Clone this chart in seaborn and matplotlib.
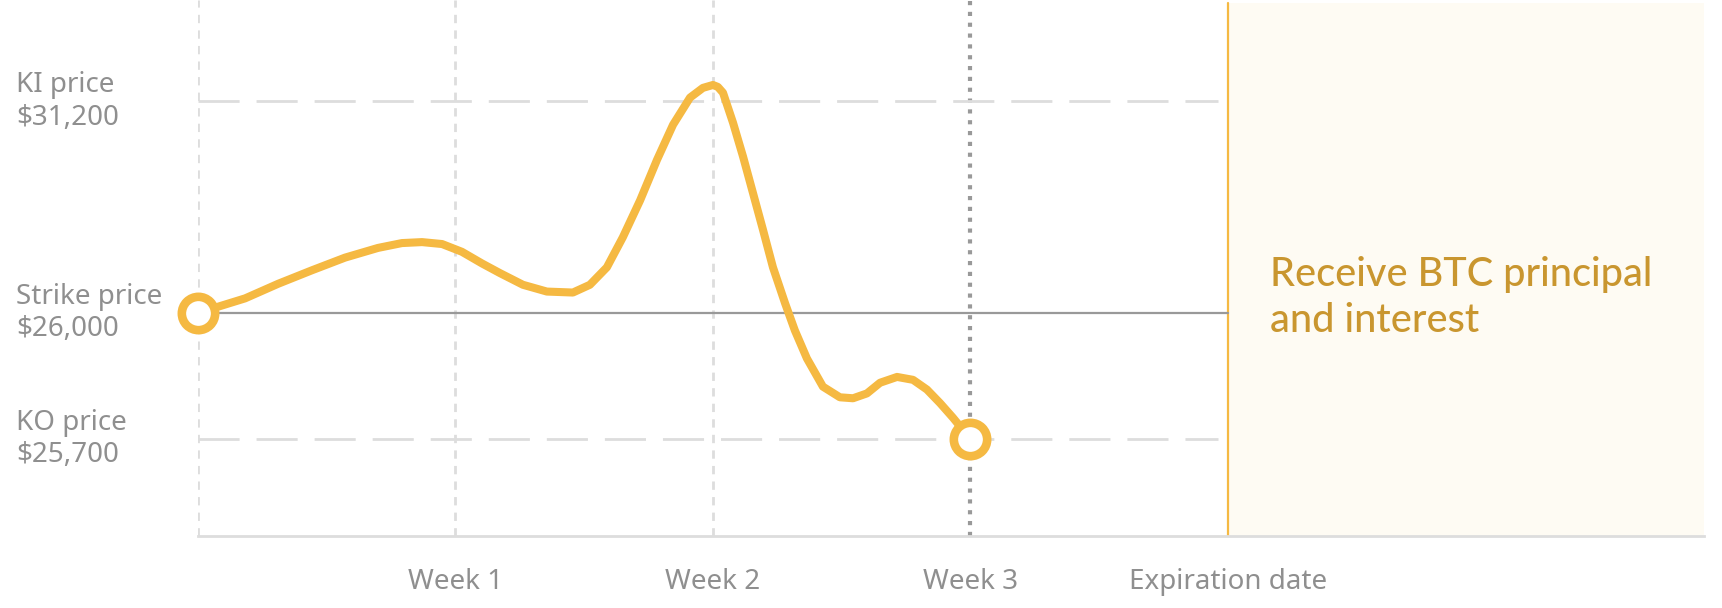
import seaborn as sns
import pandas as pd
import matplotlib.pyplot as plt

# price path, x in weeks, y in chart units (KO level = 1)
week_pos = [0.0, 0.183, 0.311, 0.443, 0.571, 0.699, 0.792, 0.870, 0.948, 1.025,
            1.103, 1.173, 1.262, 1.355, 1.456, 1.522, 1.588, 1.650, 1.717, 1.783,
            1.845, 1.911, 1.961, 2.0, 2.019, 2.039, 2.078, 2.117, 2.155, 2.194,
            2.233, 2.280, 2.318, 2.365, 2.427, 2.493, 2.544, 2.598, 2.649, 2.715,
            2.777, 2.831, 2.882, 2.932, 3.0]
price_lvl = [2.30, 2.45, 2.60, 2.74, 2.87, 2.97, 3.02, 3.03, 3.01, 2.93,
             2.81, 2.71, 2.59, 2.52, 2.51, 2.59, 2.77, 3.08, 3.46, 3.88,
             4.24, 4.52, 4.62, 4.65, 4.63, 4.57, 4.26, 3.91, 3.54, 3.16,
             2.77, 2.40, 2.12, 1.83, 1.54, 1.43, 1.42, 1.47, 1.58, 1.64,
             1.61, 1.51, 1.37, 1.22, 1.0]

levels = [4.48, 2.30, 1.0]
level_labels = ["KI price\n$31,200", "Strike price\n$26,000", "KO price\n$25,700"]
tick_pos = [1, 2, 3, 4]
tick_labels = ["Week 1", "Week 2", "Week 3", "Expiration date"]

ORANGE = "#f5b942"
GREY = "#8f8f8f"
LIGHT = "#dddddd"

sns.set_theme(style="white")
plt.rcParams['font.family'] = ['Noto Sans', 'DejaVu Sans']

fig = plt.figure(figsize=(17.22, 6.08), dpi=100)
ax = fig.add_axes([198 / 1722, 72 / 608, 1506 / 1722, 536 / 608])
ax.set_xlim(0, 5.849)
ax.set_ylim(0, 5.526)

# expiration zone
ax.axvspan(4, 5.849, ymax=5.49 / 5.526, color="#fefbf3", lw=0, zorder=0)
ax.plot([4, 4], [0, 5.49], color=ORANGE, lw=1.6, zorder=1)

# week guides
for w in [0, 1, 2]:
    ax.axvline(w, color=LIGHT, lw=2, ls=(0, (3, 2.6)), zorder=1)
ax.axvline(3, color="#999999", lw=3, ls=(0, (1, 1.6)), zorder=1)

# price levels
ax.plot([0, 3.96], [levels[0]] * 2, color=LIGHT, lw=2, ls=(0, (14.8, 6.1)), zorder=1)
ax.plot([0, 3.96], [levels[2]] * 2, color=LIGHT, lw=2, ls=(0, (14.8, 6.1)), zorder=1)
ax.plot([0, 4], [levels[1]] * 2, color="#999999", lw=1.6, zorder=1)

df = pd.DataFrame({"week": week_pos, "price": price_lvl})
sns.lineplot(data=df, x="week", y="price", color=ORANGE, lw=5.8, sort=False,
             ax=ax, zorder=3, solid_joinstyle="round", solid_capstyle="round")
ends = df.iloc[[0, -1]]
ax.plot(ends["week"], ends["price"], "o", ms=24, mfc="white", mec=ORANGE, mew=6.2,
        zorder=4, clip_on=False)

for y, lab in zip(levels, level_labels):
    ax.text(-0.1208, y, lab, transform=ax.get_yaxis_transform(), ha="left",
            va="center", fontsize=20, color=GREY, linespacing=1.2)

ax.text(4.162, 2.46, "Receive BTC principal\nand interest", ha="left", va="center",
        fontsize=28.5, color="#c9962f", linespacing=1.3, family=["Lato", "DejaVu Sans"],
        fontweight="medium")

ax.set_xticks(tick_pos)
ax.set_xticklabels(tick_labels, fontsize=20, color=GREY)
ax.tick_params(axis="x", length=0, pad=23)
ax.set_yticks([])
ax.set_xlabel("")
ax.set_ylabel("")
for side in ["left", "right", "top"]:
    ax.spines[side].set_visible(False)
ax.spines["bottom"].set_color(LIGHT)
ax.spines["bottom"].set_linewidth(2)

fig.savefig("out.png", dpi=100)
